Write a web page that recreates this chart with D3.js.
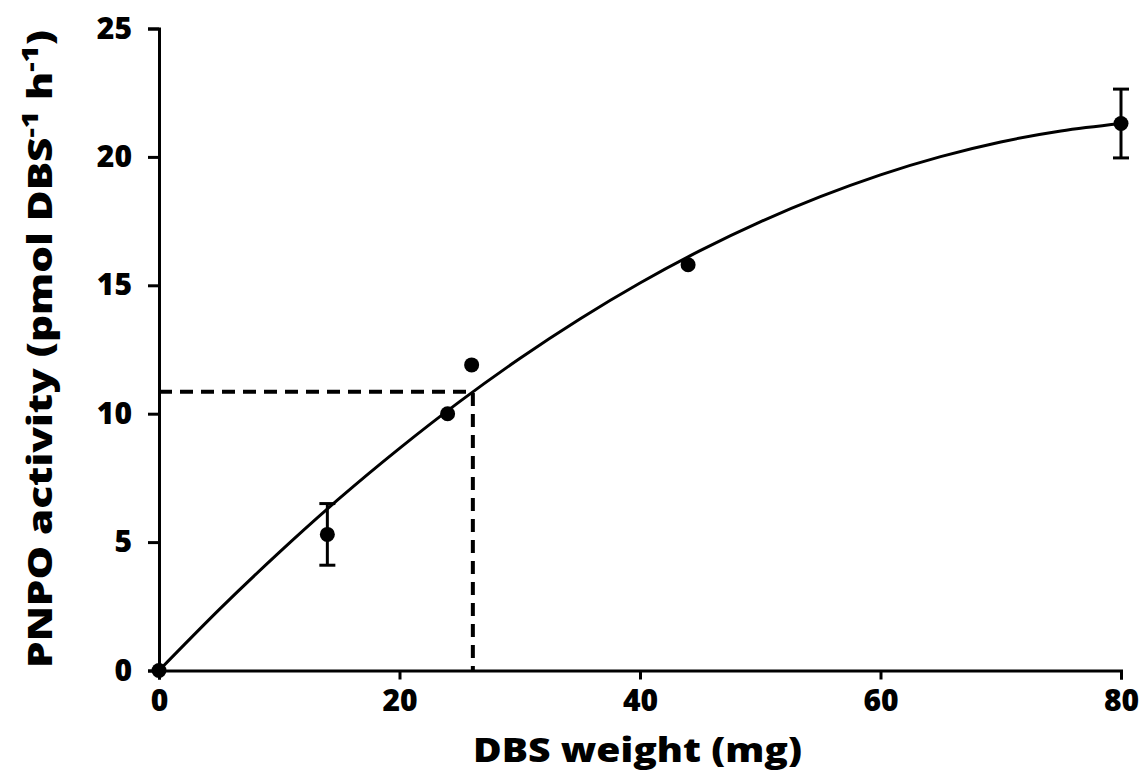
<!DOCTYPE html>
<html>
<head>
<meta charset="utf-8">
<script src="https://cdn.jsdelivr.net/npm/d3@7"></script>
<style>
  body { margin: 0; background: #fff; }
  svg { display: block; font-family: "Open Sans", Lato, sans-serif; font-weight: 700; }
</style>
</head>
<body>
<div id="chart"></div>
<script>
// measured points (mean, error)
const weights = [0, 14, 24, 26, 44, 80];
const activity = [0, 5.3, 10.0, 11.9, 15.8, 21.3];
const errors = [0, 1.2, 0, 0, 0, 1.34];

// fitted curve
const curveX = [0, 5, 10, 15, 20, 25, 30, 35, 40, 45, 50, 55, 60, 65, 70, 75, 80];
const curveY = [0, 2.37, 4.60, 6.70, 8.65, 10.47, 12.15, 13.69, 15.09, 16.35, 17.47, 18.45, 19.30, 20.01, 20.58, 21.01, 21.30];

// dashed read-off guide
const guideX = 26.1;
const guideY = 10.85;

const xTicks = [0, 20, 40, 60, 80];
const yTicks = [0, 5, 10, 15, 20, 25];

const W = 1145, H = 782;

const svg = d3.select('#chart').append('svg')
  .attr('width', W)
  .attr('height', H);

const x = d3.scaleLinear().domain([0, 80]).range([159, 1121]);
const y = d3.scaleLinear().domain([0, 25]).range([670.5, 28.5]);

// axes
const xAxis = svg.append('g')
  .attr('transform', `translate(0,${y(0)})`)
  .call(d3.axisBottom(x).tickValues(xTicks).tickSizeOuter(0).tickSize(9).tickPadding(10));

const yAxis = svg.append('g')
  .attr('transform', `translate(${x(0)},0)`)
  .call(d3.axisLeft(y).tickValues(yTicks).tickSizeOuter(0).tickSize(11).tickPadding(16));

[xAxis, yAxis].forEach(a => {
  a.selectAll('path.domain').attr('stroke', '#000').attr('stroke-width', 3);
  a.selectAll('.tick line').attr('stroke', '#000').attr('stroke-width', 3);
  a.selectAll('.tick text')
    .attr('fill', '#000')
    .attr('font-family', '"Open Sans", sans-serif')
    .attr('font-weight', 800)
    .attr('font-size', 30);
});

// dashed guide
const guide = d3.line()([[x(0), y(guideY)], [x(guideX), y(guideY)], [x(guideX), y(0)]]);
svg.append('path')
  .attr('d', guide)
  .attr('fill', 'none')
  .attr('stroke', '#000')
  .attr('stroke-width', 4)
  .attr('stroke-dasharray', '13 8');

// fit curve
const line = d3.line()
  .x((d, i) => x(d))
  .y((d, i) => y(curveY[i]))
  .curve(d3.curveNatural);

svg.append('path')
  .attr('d', line(curveX))
  .attr('fill', 'none')
  .attr('stroke', '#000')
  .attr('stroke-width', 3);

// error bars
const pts = weights.map((w, i) => ({ w, v: activity[i], e: errors[i] }));
const eb = svg.append('g')
  .selectAll('g')
  .data(pts.filter(d => d.e > 0))
  .join('g');

eb.append('line')
  .attr('x1', d => x(d.w)).attr('x2', d => x(d.w))
  .attr('y1', d => y(d.v - d.e)).attr('y2', d => y(d.v + d.e))
  .attr('stroke', '#000').attr('stroke-width', 3);

[-1, 1].forEach(s => {
  eb.append('line')
    .attr('x1', d => x(d.w) - 8).attr('x2', d => x(d.w) + 8)
    .attr('y1', d => y(d.v + s * d.e)).attr('y2', d => y(d.v + s * d.e))
    .attr('stroke', '#000').attr('stroke-width', 3);
});

// points
svg.append('g')
  .selectAll('circle')
  .data(pts)
  .join('circle')
  .attr('cx', d => x(d.w))
  .attr('cy', d => y(d.v))
  .attr('r', 7.5)
  .attr('fill', '#000');

// axis titles
svg.append('text')
  .attr('x', 637.5)
  .attr('y', 762)
  .attr('text-anchor', 'middle')
  .attr('font-size', 33)
  .attr('font-weight', 800)
  .attr('textLength', 329)
  .attr('lengthAdjust', 'spacingAndGlyphs')
  .attr('fill', '#000')
  .text('DBS weight (mg)');

const yt = svg.append('text')
  .attr('transform', 'translate(52,349) rotate(-90)')
  .attr('text-anchor', 'middle')
  .attr('font-size', 33)
  .attr('font-weight', 800)
  .attr('textLength', 638)
  .attr('lengthAdjust', 'spacingAndGlyphs')
  .attr('fill', '#000');
yt.append('tspan').text('PNPO activity (pmol DBS');
yt.append('tspan').attr('font-size', 23).attr('dy', -14).text('-1');
yt.append('tspan').attr('dy', 14).text(' h');
yt.append('tspan').attr('font-size', 23).attr('dy', -14).text('-1');
yt.append('tspan').attr('dy', 14).text(')');
</script>
</body>
</html>
